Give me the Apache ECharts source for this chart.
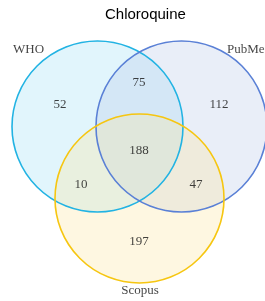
<!DOCTYPE html>
<html>
<head>
<meta charset="utf-8">
<script src="https://cdn.jsdelivr.net/npm/echarts@6/dist/echarts.min.js"></script>
<style>html,body{margin:0;padding:0;background:#fff}#c{width:265px;height:301px}</style>
</head>
<body>
<div id="c"></div>
<script>
// Sets and their drawn circles (centre x, centre y, radius in layout units)
const setNames = ['WHO', 'PubMed', 'Scopus'];
const setCircles = [[97.5, 126.5, 85.5], [181.5, 126.5, 85.5], [139.5, 198.5, 84.5]];
const setFill = ['rgb(155,222,245)', 'rgb(182,198,232)', 'rgb(252,228,155)'];
const setStroke = ['#22b3e3', '#5a80d6', '#f6c611'];
const setLabelPos = [[13, 50], [227, 50], [140, 291]];
const setLabelAlign = ['left', 'left', 'center'];

// Region counts and label positions
const regionNames = ['WHO only', 'WHO∩PubMed', 'PubMed only', 'All three', 'WHO∩Scopus', 'PubMed∩Scopus', 'Scopus only'];
const regionCounts = [52, 75, 112, 188, 10, 47, 197];
const regionPos = [[60, 105], [139, 83], [219, 105], [139, 151], [81, 185], [196, 185], [139, 242]];

const chart = echarts.init(document.getElementById('c'));

function circleRender(fill) {
  return function (params, api) {
    const c = api.coord([api.value(0), api.value(1)]);
    const r = api.size([api.value(2), 0])[0];
    const i = params.dataIndex;
    return {
      type: 'circle',
      shape: { cx: c[0], cy: c[1], r: r },
      style: fill
        ? { fill: setFill[i], opacity: 0.3, stroke: null }
        : { fill: 'none', stroke: setStroke[i], lineWidth: 1.6 }
    };
  };
}

chart.setOption({
  animation: false,
  title: {
    text: 'Chloroquine', left: 100, top: 2,
    textStyle: { fontFamily: 'Liberation Sans', fontSize: 15, fontWeight: 'normal', color: '#000' }
  },
  grid: { left: 0, right: 0, top: 0, bottom: 0 },
  xAxis: { type: 'value', min: 0, max: 265, show: false },
  yAxis: { type: 'value', min: 0, max: 301, inverse: true, show: false },
  series: [
    { type: 'custom', renderItem: circleRender(true), data: setCircles, silent: true, z: 1 },
    { type: 'custom', renderItem: circleRender(false), data: setCircles, silent: true, z: 2 },
    {
      type: 'scatter', symbolSize: 0, z: 3,
      data: regionPos.map((p, i) => ({ name: regionNames[i], value: [p[0], p[1], regionCounts[i]] })),
      label: {
        show: true, position: 'inside', formatter: p => String(p.value[2]),
        fontFamily: 'Liberation Serif', fontSize: 13, color: '#111'
      }
    },
    {
      type: 'scatter', symbolSize: 0, z: 3,
      data: setLabelPos.map((p, i) => ({ name: setNames[i], value: p, label: { align: setLabelAlign[i] } })),
      label: {
        show: true, position: 'inside', formatter: p => p.name,
        fontFamily: 'Liberation Serif', fontSize: 13, color: '#111'
      }
    }
  ]
});
</script>
</body>
</html>
